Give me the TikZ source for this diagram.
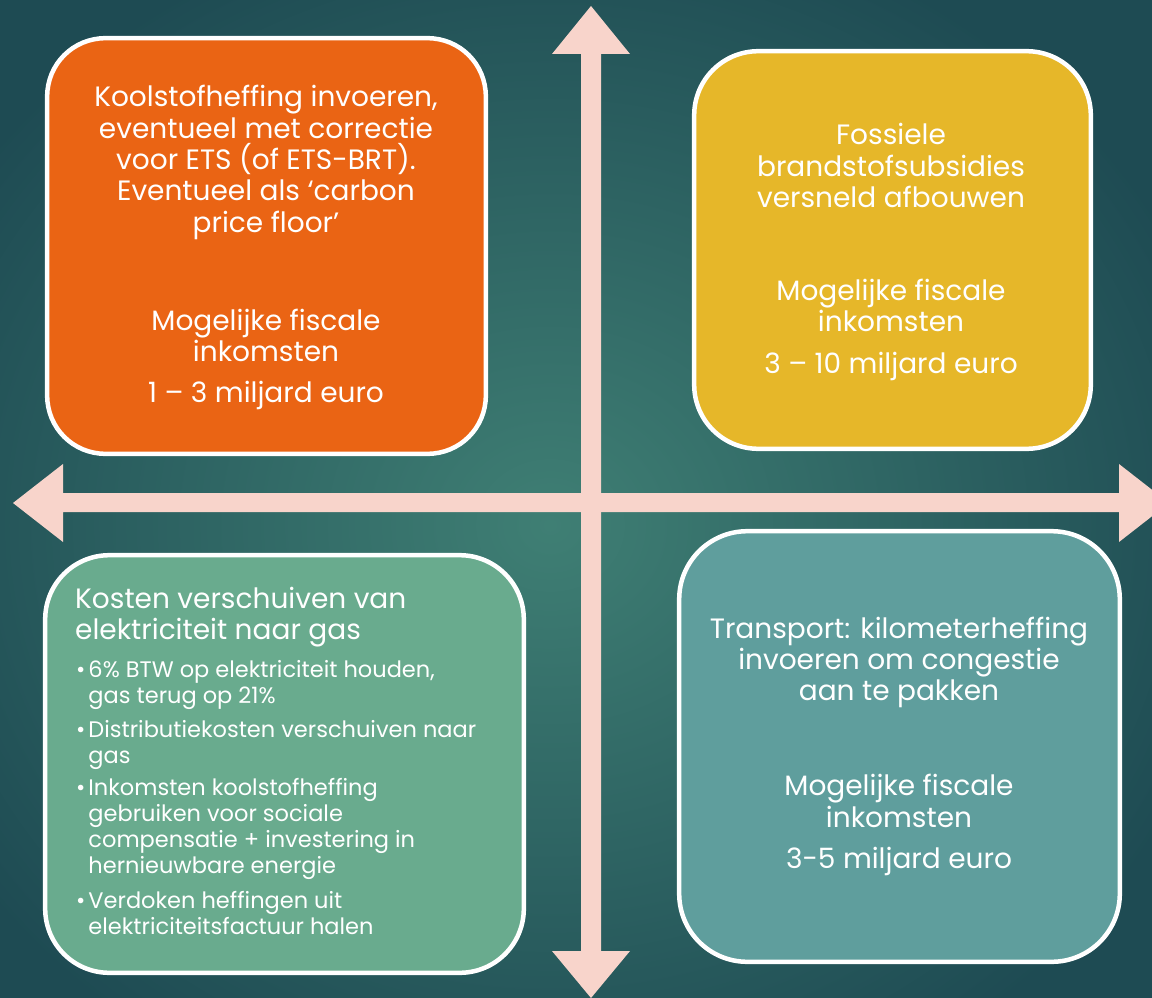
\documentclass[tikz,border=0pt]{standalone}
\usepackage{fontspec}
\setmainfont{Poppins}
\definecolor{bgin}{HTML}{3F7F74}
\definecolor{bgout}{HTML}{1E4B53}
\definecolor{arrowc}{HTML}{F8D4CB}
\definecolor{orangebox}{HTML}{EA6414}
\definecolor{yellowbox}{HTML}{E6B729}
\definecolor{greenbox}{HTML}{69AB8E}
\definecolor{tealbox}{HTML}{5F9E9D}
\tikzset{
  box/.style={draw=white, line width=4.5pt},
  maintext/.style={text=white, font=\fontsize{28}{31.3}\selectfont, align=center, inner sep=0pt},
  titletext/.style={text=white, font=\fontsize{28}{31}\selectfont, align=left, anchor=west, inner sep=0pt},
  bullettext/.style={text=white, font=\fontsize{22.5}{26}\selectfont, align=left, anchor=west, inner sep=0pt},
}
\newcommand{\bul}{•\hspace{3pt}}
\newcommand{\bulind}{\phantom{•}\hspace{3pt}}
\begin{document}
\begin{tikzpicture}[x=1pt,y=-1pt]
\useasboundingbox (0,0) rectangle (1152,998);
\shade[inner color=bgin, outer color=bgout] (-150,-100) rectangle (1250,1150);
\clip (0,0) rectangle (1152,998);
% arrows
\fill[arrowc] (591,6) -- (630,54) -- (601,54) -- (601,951) -- (630,951) -- (591,998)
  -- (552,951) -- (581,951) -- (581,54) -- (552,54) -- cycle;
\fill[arrowc] (13,503) -- (63,464) -- (63,493) -- (1119,493) -- (1119,464) -- (1169,503)
  -- (1119,542) -- (1119,512) -- (63,512) -- (63,542) -- cycle;
% boxes
\draw[box, fill=orangebox, rounded corners=58pt] (47.2,38.2) rectangle (485.8,453.8);
\draw[box, fill=yellowbox, rounded corners=64pt] (694.2,51.2) rectangle (1090.8,448.8);
\draw[box, fill=greenbox, rounded corners=64pt] (45.2,555.2) rectangle (523.8,972.8);
\draw[box, fill=tealbox, rounded corners=68pt] (679.2,531.2) rectangle (1119.8,961.8);
% orange text
\node[maintext] (o1) at (266,162.5) {Koolstofheffing invoeren,\\eventueel met correctie\\voor ETS (of ETS-BRT).\\Eventueel als ‘carbon\\price floor’};
\node[maintext] (o2) at (266,335.5) {Mogelijke fiscale\\inkomsten};
\node[maintext] (o3) at (266,395) {1 – 3 miljard euro};
% yellow text
\node[maintext] (y1) at (891,165.5) {Fossiele\\brandstofsubsidies\\versneld afbouwen};
\node[maintext] (y2) at (891,305.5) {Mogelijke fiscale\\inkomsten};
\node[maintext] (y3) at (891,366) {3 – 10 miljard euro};
% teal text
\node[maintext] (t1) at (899,662.5) {Transport: kilometerheffing\\invoeren om congestie\\aan te pakken};
\node[maintext] (t2) at (899,801) {Mogelijke fiscale\\inkomsten};
\node[maintext] (t3) at (899,861) {3-5 miljard euro};
% green text
\node[titletext] (g0) at (75,617.5) {Kosten verschuiven van\\elektriciteit naar gas};
\node[bullettext] (g1) at (76,685) {\bul 6\% BTW op elektriciteit houden,\\\bulind gas terug op 21\%};
\node[bullettext] (g2) at (76,744.5) {\bul Distributiekosten verschuiven naar\\\bulind gas};
\node[bullettext] (g3) at (76,829) {\bul Inkomsten koolstofheffing\\\bulind gebruiken voor sociale\\\bulind compensatie + investering in\\\bulind hernieuwbare energie};
\node[bullettext] (g4) at (76,913) {\bul Verdoken heffingen uit\\\bulind elektriciteitsfactuur halen};
\end{tikzpicture}
\end{document}
